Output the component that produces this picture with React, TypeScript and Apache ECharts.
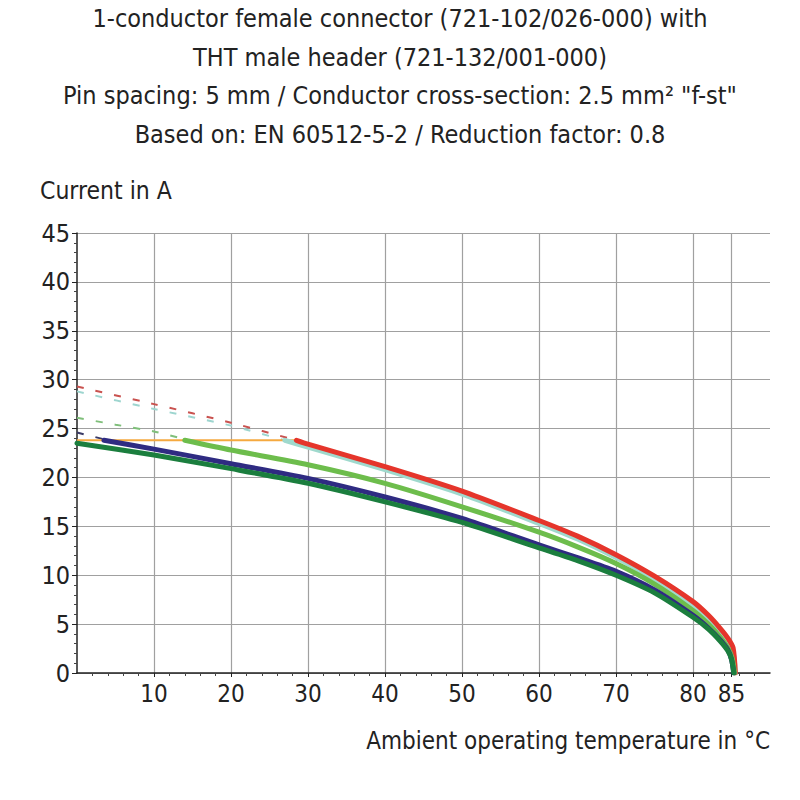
import React, { useEffect, useRef } from "react";
import * as echarts from "echarts";

const titleLines = [
  "1-conductor female connector (721-102/026-000) with",
  "THT male header (721-132/001-000)",
  "Pin spacing: 5 mm / Conductor cross-section: 2.5 mm² \"f-st\"",
  "Based on: EN 60512-5-2 / Reduction factor: 0.8",
];
const yAxisName = "Current in A";
const xAxisName = "Ambient operating temperature in °C";
const xLabelValues = [10, 20, 30, 40, 50, 60, 70, 80, 85];

const redDashed = [[0, 29.3], [10, 27.5], [20, 25.6], [28.5, 23.8]];
const tealDashed = [[0, 28.8], [10, 27.0], [20, 25.3], [27, 23.8]];
const greenDashed = [[0, 26.1], [5, 25.4], [10, 24.7], [14, 23.9]];
const navyDashed = [[0, 24.6], [3.5, 23.9]];
const orangeLimit = [[0, 23.8], [29, 23.8]];

const redSolid = [[28.5, 23.8], [30, 23.4], [40, 21.1], [50, 18.6], [60, 15.6], [65, 14.0], [70, 12.1], [75, 9.9], [80, 7.3], [82, 5.9], [83.5, 4.6], [84.5, 3.6], [85.2, 2.6], [85.5, 0]];
const tealSolid = [[27, 23.8], [30, 23.1], [40, 20.8], [50, 18.3], [60, 15.3], [65, 13.7], [70, 11.8], [75, 9.6], [80, 6.9], [82, 5.5], [83.5, 4.2], [84.5, 3.2], [85.2, 2.2], [85.5, 0]];
const greenSolid = [[14, 23.8], [20, 22.8], [30, 21.3], [40, 19.4], [50, 17.0], [60, 14.4], [65, 12.9], [70, 11.2], [75, 9.1], [80, 6.4], [82, 5.0], [83.5, 3.7], [84.5, 2.6], [85.1, 1.5], [85.4, 0]];
const navySolid = [[3.5, 23.8], [10, 22.9], [20, 21.4], [30, 19.9], [40, 18.0], [50, 15.8], [60, 13.1], [65, 11.8], [70, 10.4], [75, 8.5], [80, 5.9], [82, 4.6], [83.5, 3.4], [84.5, 2.4], [85, 1.4], [85.3, 0]];
const darkGreenSolid = [[0, 23.5], [10, 22.3], [20, 20.9], [30, 19.4], [40, 17.5], [50, 15.4], [60, 12.8], [65, 11.5], [70, 10.0], [75, 8.2], [80, 5.7], [82, 4.5], [83.5, 3.3], [84.5, 2.3], [85, 1.4], [85.3, 0]];

const FONT = "'DejaVu Sans Condensed', 'Liberation Sans Narrow', sans-serif";

export default function App() {
  const ref = useRef<HTMLDivElement>(null);
  useEffect(() => {
    if (!ref.current) return;
    const chart = echarts.init(ref.current, undefined, { renderer: "svg" });
    const dashed = (data: number[][], color: string) => ({
      type: "line",
      data,
      symbol: "none",
      smooth: 0.2,
      lineStyle: { color, width: 2, type: [7, 12] },
      z: 2,
    });
    const solid = (data: number[][], color: string, z: number) => ({
      type: "line",
      data,
      symbol: "none",
      smooth: 0.25,
      lineStyle: { color, width: 5, cap: "round", join: "round" },
      z,
    });
    chart.setOption({
      animation: false,
      backgroundColor: "#ffffff",
      grid: { left: 77, right: 30, top: 233, bottom: 127, containLabel: false },
      xAxis: {
        type: "value",
        min: 0,
        max: 90,
        interval: 10,
        axisLine: { show: true, onZero: false, lineStyle: { color: "#222", width: 1.5 } },
        axisTick: { show: true, length: 4, inside: false, lineStyle: { color: "#222" }, customValues: xLabelValues },
        minorTick: { show: true, splitNumber: 5, length: 3, lineStyle: { color: "#444" } },
        splitLine: { show: true, lineStyle: { color: "#a0a0a0", width: 1.2 } },
        axisLabel: {
          customValues: xLabelValues,
          color: "#222",
          fontFamily: FONT,
          fontSize: 24,
          margin: 9,
        },
      },
      yAxis: {
        type: "value",
        min: 0,
        max: 45,
        interval: 5,
        axisLine: { show: true, lineStyle: { color: "#222", width: 1.5 } },
        axisTick: { show: true, length: 5, lineStyle: { color: "#222" } },
        minorTick: { show: true, splitNumber: 5, length: 3, lineStyle: { color: "#444" } },
        splitLine: { show: true, lineStyle: { color: "#a0a0a0", width: 1.2 } },
        axisLabel: {
          color: "#222",
          fontFamily: FONT,
          fontSize: 25,
          margin: 7,
        },
      },
      graphic: [
        ...titleLines.map((t, i) => ({
          type: "text",
          left: "center",
          top: 6 + i * 38.5,
          style: { text: t, fill: "#222", font: `25px ${FONT}` },
        })),
        {
          type: "text",
          left: 40,
          top: 178,
          style: { text: yAxisName, fill: "#222", font: `24.5px ${FONT}` },
        },
        {
          type: "text",
          right: 30,
          top: 729,
          style: { text: xAxisName, fill: "#222", font: `24px ${FONT}` },
        },
      ],
      series: [
        dashed(redDashed, "#c9524f"),
        dashed(tealDashed, "#9dd5cf"),
        dashed(greenDashed, "#7fbf7a"),
        dashed(navyDashed, "#3a3a66"),
        {
          type: "line",
          data: orangeLimit,
          symbol: "none",
          lineStyle: { color: "#f5a93f", width: 2 },
          z: 3,
        },
        solid(tealSolid, "#9fd9cd", 3),
        solid(redSolid, "#e5352b", 4),
        solid(greenSolid, "#6dbd4c", 5),
        solid(navySolid, "#2f2b82", 6),
        solid(darkGreenSolid, "#1b7e3e", 7),
      ],
    });
    return () => chart.dispose();
  }, []);
  return (
    <div
      ref={ref}
      style={{ position: "fixed", left: 0, top: 0, width: 800, height: 800, background: "#fff" }}
    />
  );
}
